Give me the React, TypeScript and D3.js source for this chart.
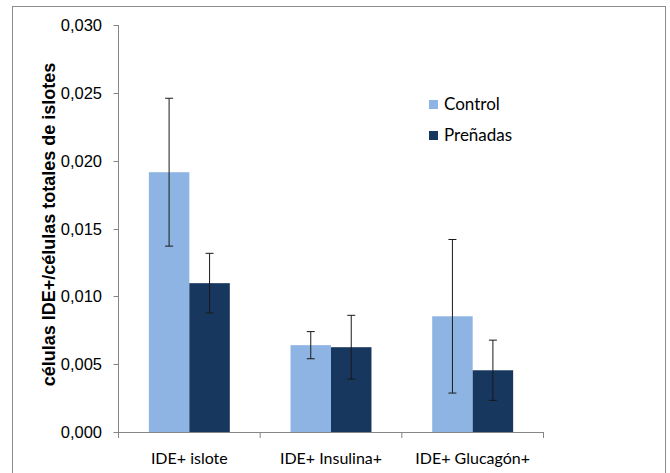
import React from "react";
import * as d3 from "d3";

const categories = ["IDE+ islote", "IDE+ Insulina+", "IDE+ Glucagón+"];
const seriesNames = ["Control", "Preñadas"];
const controlValues = [0.01915, 0.0064, 0.00853];
const controlErrors = [0.00545, 0.001, 0.00566];
const prenadasValues = [0.01097, 0.00625, 0.00455];
const prenadasErrors = [0.0022, 0.00235, 0.00222];
const yTicks = [0, 0.005, 0.01, 0.015, 0.02, 0.025, 0.03];
const colors = ["#8EB4E3", "#17375E"];

const W = 670;
const H = 473;
const plot = { left: 118.5, right: 543.5, top: 25, bottom: 432 };
const ARIAL = "'Liberation Sans', Arial, sans-serif";
const CALIBRI = "Lato, Carlito, Calibri, sans-serif";

export default function App() {
  const x = d3.scaleBand<string>().domain(categories).range([plot.left, plot.right]).padding(0);
  const y = d3.scaleLinear().domain([0, 0.03]).range([plot.bottom, plot.top]);
  const bw = x.bandwidth();
  const barW = bw / 3.5; // Excel gap width 150%
  const inner = d3.scaleBand<string>().domain(seriesNames).range([0, barW * 2]).padding(0);

  const series = [
    { name: seriesNames[0], values: controlValues, errors: controlErrors, color: colors[0] },
    { name: seriesNames[1], values: prenadasValues, errors: prenadasErrors, color: colors[1] },
  ];
  const fmt = (v: number) => d3.format(".3f")(v).replace(".", ",");
  const axisColor = "#868686";

  return (
    <svg width={W} height={H} style={{ position: "absolute", left: 0, top: 0 }} xmlns="http://www.w3.org/2000/svg">
      <rect x={0} y={0} width={W} height={H} fill="#fff" />
      <rect x={12.5} y={6.5} width={653} height={480} fill="none" stroke="#8c8c8c" strokeWidth={1} />
      {/* y axis */}
      <line x1={plot.left} x2={plot.left} y1={y(0.03)} y2={y(0)} stroke={axisColor} />
      {yTicks.map((t) => (
        <g key={t}>
          <line x1={plot.left - 5} x2={plot.left} y1={Math.round(y(t)) + 0.5} y2={Math.round(y(t)) + 0.5} stroke={axisColor} />
          <text x={102} y={y(t) + 6} textAnchor="end" style={{ fontFamily: ARIAL }} fontSize={16.5} fill="#000">
            {fmt(t)}
          </text>
        </g>
      ))}
      <text
        transform={`translate(55, 224.5) rotate(-90)`}
        textAnchor="middle"
        style={{ fontFamily: ARIAL }}
        fontWeight="bold"
        fontSize={18}
        fill="#000"
      >
        células IDE+/células totales de islotes
      </text>
      {/* bars */}
      {series.map((s) =>
        categories.map((c, i) => {
          const x0 = (x(c) as number) + (bw - barW * 2) / 2 + (inner(s.name) as number);
          return (
            <rect key={s.name + c} x={x0} y={y(s.values[i])} width={barW} height={y(0) - y(s.values[i])} fill={s.color} />
          );
        })
      )}
      {/* error bars */}
      {series.map((s) =>
        categories.map((c, i) => {
          const cx = (x(c) as number) + (bw - barW * 2) / 2 + (inner(s.name) as number) + barW / 2;
          const hi = y(s.values[i] + s.errors[i]);
          const lo = y(s.values[i] - s.errors[i]);
          return (
            <g key={"e" + s.name + c} stroke="#1a1a1a" strokeWidth={1}>
              <line x1={cx} x2={cx} y1={hi} y2={lo} />
              <line x1={cx - 4} x2={cx + 4} y1={hi} y2={hi} />
              <line x1={cx - 4} x2={cx + 4} y1={lo} y2={lo} />
            </g>
          );
        })
      )}
      {/* x axis */}
      <line x1={plot.left} x2={plot.right} y1={plot.bottom + 0.5} y2={plot.bottom + 0.5} stroke={axisColor} />
      {[...categories.map((c) => x(c) as number), plot.right].map((v, i) => (
        <line key={i} x1={v} x2={v} y1={plot.bottom} y2={plot.bottom + 6} stroke={axisColor} />
      ))}
      {categories.map((c) => (
        <text key={c} x={(x(c) as number) + bw / 2} y={464} textAnchor="middle" style={{ fontFamily: CALIBRI }} fontSize={16} fill="#000">
          {c}
        </text>
      ))}
      {/* legend */}
      {series.map((s, i) => (
        <g key={"l" + s.name} transform={`translate(429, ${100 + i * 31})`}>
          <rect x={0} y={0} width={9} height={9} fill={s.color} />
          <text x={15} y={10} style={{ fontFamily: CALIBRI }} fontSize={17} fill="#000">
            {s.name}
          </text>
        </g>
      ))}
    </svg>
  );
}
